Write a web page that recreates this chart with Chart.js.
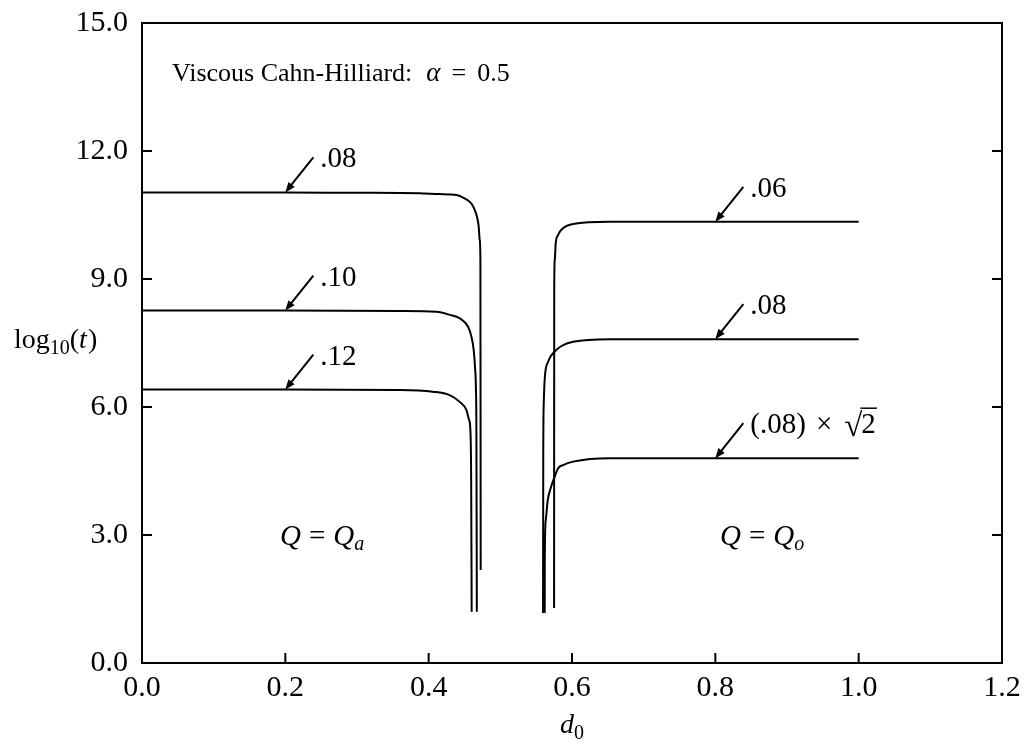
<!DOCTYPE html>
<html>
<head>
<meta charset="utf-8">
<script src="https://cdn.jsdelivr.net/npm/chart.js@4"></script>
<style>
html, body { margin: 0; padding: 0; background: #fff; }
</style>
</head>
<body>
<canvas id="chart" width="1029" height="751"></canvas>
<script>
"use strict"

// curves: d0 (x) and log10(t) (y)
// Q = Qa branch (left)
const d0_Qa_08 = [0, 0.10, 0.20, 0.30, 0.387, 0.415, 0.439, 0.450, 0.4596, 0.4642, 0.4674, 0.4698, 0.4712, 0.4722, 0.4726];
const logt_Qa_08 = [11.03, 11.03, 11.03, 11.02, 11.01, 10.99, 10.97, 10.89, 10.77, 10.62, 10.46, 10.23, 9.92, 9.45, 2.18];

const d0_Qa_10 = [0, 0.10, 0.20, 0.3595, 0.411, 0.4295, 0.4433, 0.455, 0.4596, 0.4628, 0.4646, 0.466, 0.4666, 0.4672];
const logt_Qa_10 = [8.26, 8.26, 8.26, 8.25, 8.23, 8.16, 8.08, 7.88, 7.65, 7.34, 6.95, 6.40, 5.46, 1.20];

const d0_Qa_12 = [0, 0.10, 0.20, 0.3595, 0.4056, 0.4293, 0.4433, 0.4526, 0.4563, 0.4582, 0.4593, 0.4600];
const logt_Qa_12 = [6.41, 6.41, 6.41, 6.40, 6.36, 6.28, 6.12, 5.93, 5.70, 5.46, 4.29, 1.20];

// Q = Qo branch (right)
const d0_Qo_06 = [0.5750, 0.5752, 0.5759, 0.5773, 0.5805, 0.5875, 0.6015, 0.6527, 0.80, 1.00];
const logt_Qo_06 = [1.29, 8.74, 9.44, 9.84, 10.03, 10.19, 10.29, 10.34, 10.34, 10.34];

const d0_Qo_08 = [0.5596, 0.5599, 0.5606, 0.5620, 0.5666, 0.5759, 0.5853, 0.6015, 0.6527, 0.80, 1.00];
const logt_Qo_08 = [1.17, 4.92, 6.09, 6.67, 7.06, 7.30, 7.43, 7.53, 7.59, 7.59, 7.59];

const d0_Qo_08r2 = [0.5619, 0.5620, 0.5634, 0.5662, 0.5703, 0.5759, 0.5805, 0.5875, 0.6015, 0.6527, 0.80, 1.00];
const logt_Qo_08r2 = [1.17, 2.41, 3.35, 3.82, 4.10, 4.37, 4.56, 4.64, 4.72, 4.80, 4.80, 4.80];

// curve labels with arrows
const labelText = [".08", ".10", ".12", ".06", ".08", "(.08) × √2"];
const labelTipX = [0.2, 0.2, 0.2, 0.8, 0.8, 0.8];
const labelTipY = [11.03, 8.26, 6.41, 10.34, 7.59, 4.80];

// axis ticks
const xTicks = [0.0, 0.2, 0.4, 0.6, 0.8, 1.0, 1.2];
const yTicks = [0.0, 3.0, 6.0, 9.0, 12.0, 15.0];

const fam = '"Liberation Serif", "Times New Roman", serif';
const rm = "29px " + fam;
const it = "italic 29px " + fam;
const title = "26px " + fam;
const titleIt = "italic 27px " + fam;
const sub = "20px " + fam;
const subIt = "italic 20px " + fam;

const toPoints = (xs, ys) => xs.map((x, i) => ({ x: x, y: ys[i] }));

const lineSet = (xs, ys) => ({
    data: toPoints(xs, ys),
    showLine: true,
    borderColor: "#000",
    borderWidth: 2,
    pointRadius: 0,
    fill: false,
    cubicInterpolationMode: "monotone"
});

// draw pieces of text one after another (for subscripts / italics)
const drawRuns = (ctx, x, y, runs) => {
    for (const r of runs) {
        ctx.font = r.f;
        x += r.dx || 0;
        ctx.fillText(r.t, x, y + (r.dy || 0));
        x += ctx.measureText(r.t).width;
    }
    return x;
};

const decor = {
    id: "decor",
    afterDraw(chart) {
        const ctx = chart.ctx;
        const a = chart.chartArea;
        const xs = chart.scales.x;
        const ys = chart.scales.y;
        ctx.save();
        ctx.strokeStyle = "#000";
        ctx.fillStyle = "#000";
        ctx.lineWidth = 2;

        // frame
        ctx.strokeRect(a.left, a.top, a.right - a.left, a.bottom - a.top);

        // inward ticks
        ctx.beginPath();
        yTicks.slice(1, -1).forEach(v => {
            const py = ys.getPixelForValue(v);
            ctx.moveTo(a.left, py); ctx.lineTo(a.left + 10, py);
            ctx.moveTo(a.right, py); ctx.lineTo(a.right - 10, py);
        });
        xTicks.slice(1, -1).forEach(v => {
            const px = xs.getPixelForValue(v);
            ctx.moveTo(px, a.bottom); ctx.lineTo(px, a.bottom - 10);
        });
        ctx.stroke();

        // arrows and curve labels
        ctx.textBaseline = "alphabetic";
        labelText.forEach((txt, i) => {
            const tx = xs.getPixelForValue(labelTipX[i]);
            const ty = ys.getPixelForValue(labelTipY[i]);
            const sx = tx + 28, sy = ty - 35;
            const ang = Math.atan2(ty - sy, tx - sx);
            ctx.lineWidth = 2;
            ctx.beginPath();
            ctx.moveTo(sx, sy);
            ctx.lineTo(tx - 6 * Math.cos(ang), ty - 6 * Math.sin(ang));
            ctx.stroke();
            ctx.beginPath();
            ctx.moveTo(tx, ty);
            ctx.lineTo(tx - 10 * Math.cos(ang) + 4 * Math.sin(ang), ty - 10 * Math.sin(ang) - 4 * Math.cos(ang));
            ctx.lineTo(tx - 10 * Math.cos(ang) - 4 * Math.sin(ang), ty - 10 * Math.sin(ang) + 4 * Math.cos(ang));
            ctx.closePath();
            ctx.fill();

            const bx = sx + 7, by = sy + 10;
            if (txt.indexOf("√") < 0) {
                drawRuns(ctx, bx, by, [{ t: txt, f: rm }]);
            } else {
                let x = drawRuns(ctx, bx, by, [{ t: "(.08)", f: rm }, { t: "×", f: rm, dx: 10 }]);
                x = drawRuns(ctx, x + 12, by + 3, [{ t: "√", f: "33px " + fam }]);
                const x2 = drawRuns(ctx, x - 1, by, [{ t: "2", f: rm }]);
                ctx.lineWidth = 1.5;
                ctx.beginPath();
                ctx.moveTo(x - 2, by - 25);
                ctx.lineTo(x2 + 1, by - 25);
                ctx.stroke();
            }
        });

        // title text
        drawRuns(ctx, 172, 81, [
            { t: "Viscous Cahn-Hilliard:", f: title },
            { t: "α", f: titleIt, dx: 14 },
            { t: "=", f: title, dx: 11 },
            { t: "0.5", f: title, dx: 11 }
        ]);

        // region labels
        drawRuns(ctx, 280, 545, [
            { t: "Q", f: it },
            { t: "=", f: rm, dx: 8 },
            { t: "Q", f: it, dx: 8 },
            { t: "a", f: subIt, dy: 5 }
        ]);
        drawRuns(ctx, 720, 545, [
            { t: "Q", f: it },
            { t: "=", f: rm, dx: 8 },
            { t: "Q", f: it, dx: 8 },
            { t: "o", f: subIt, dy: 5 }
        ]);

        // axis titles
        drawRuns(ctx, 14, 348, [
            { t: "log", f: "28px " + fam },
            { t: "10", f: sub, dy: 6 },
            { t: "(", f: "28px " + fam },
            { t: "t", f: "italic 28px " + fam },
            { t: ")", f: "28px " + fam, dx: 1 }
        ]);
        drawRuns(ctx, 560, 733, [
            { t: "d", f: "italic 28px " + fam },
            { t: "0", f: sub, dy: 6 }
        ]);

        ctx.restore();
    }
};

new Chart(document.getElementById("chart"), {
    type: "scatter",
    data: {
        datasets: [
            lineSet(d0_Qa_08, logt_Qa_08),
            lineSet(d0_Qa_10, logt_Qa_10),
            lineSet(d0_Qa_12, logt_Qa_12),
            lineSet(d0_Qo_06, logt_Qo_06),
            lineSet(d0_Qo_08, logt_Qo_08),
            lineSet(d0_Qo_08r2, logt_Qo_08r2)
        ]
    },
    options: {
        responsive: false,
        animation: false,
        devicePixelRatio: 1,
        layout: { padding: { top: 23, right: 27, left: 0, bottom: 0 } },
        plugins: { legend: { display: false }, tooltip: { enabled: false } },
        scales: {
            x: {
                type: "linear",
                min: 0,
                max: 1.2,
                afterFit: s => { s.height = 88; s.paddingLeft = 0; s.paddingRight = 0; },
                afterBuildTicks: s => { s.ticks = xTicks.map(v => ({ value: v })); },
                grid: { display: false, drawTicks: false },
                border: { display: false },
                ticks: {
                    color: "#000",
                    padding: 7,
                    maxRotation: 0,
                    font: { family: fam, size: 30 },
                    callback: v => Number(v).toFixed(1)
                }
            },
            y: {
                type: "linear",
                min: 0,
                max: 15,
                afterFit: s => { s.width = 142; s.paddingTop = 0; s.paddingBottom = 0; },
                afterBuildTicks: s => { s.ticks = yTicks.map(v => ({ value: v })); },
                grid: { display: false, drawTicks: false },
                border: { display: false },
                ticks: {
                    color: "#000",
                    padding: 14,
                    font: { family: fam, size: 30 },
                    callback: v => Number(v).toFixed(1)
                }
            }
        }
    },
    plugins: [decor]
});
</script>
</body>
</html>
